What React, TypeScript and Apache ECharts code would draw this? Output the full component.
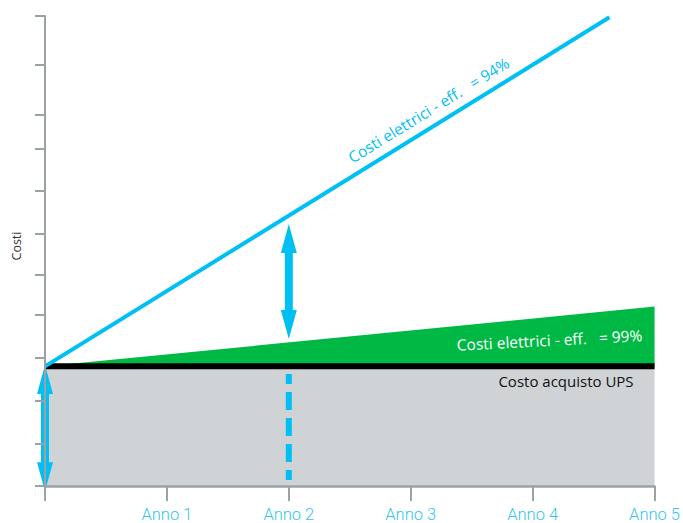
import React, { useEffect, useRef } from "react";
import * as echarts from "echarts";

// x: years (0..5), y: cost units (0..110)
const yearTicks = [0, 1, 2, 3, 4, 5];
const yearLabels = ["", "Anno 1", "Anno 2", "Anno 3", "Anno 4", "Anno 5"];
const costTicks = [0, 10, 20, 30, 40, 49.5, 59, 69, 79, 87, 98.5, 110];

const upsCost = [[0, 28], [5, 28]];
const eff99 = [[0, 28], [5, 42]];
const eff94 = [[0, 28], [4.63, 109.7]];
const dashedMarker = [[2, 26.2], [2, 1.4]];
// arrows: [x, topTip, bottomTip]
const arrows = [[2, 61.3, 34.4], [0, 28.3, -1.2]];

const labelEff94 = "Costi elettrici - eff.\u00a0\u00a0 = 94%";
const labelEff99 = "Costi elettrici - eff.\u00a0\u00a0 = 99%";
const labelUps = "Costo acquisto UPS";
const yName = "Costi";

const BLUE = "#00bff3";
const GREEN = "#00b945";
const GRAY_AREA = "#cfd3d6";
const AXIS_GRAY = "#9ba2a6";
const FONT = "'Open Sans', 'Noto Sans', sans-serif";

export default function App() {
  const ref = useRef<HTMLDivElement>(null);
  useEffect(() => {
    if (!ref.current) return;
    const chart = echarts.init(ref.current, undefined, { renderer: "svg" });
    const option: any = {
      animation: false,
      grid: { left: 45, right: 26, top: 16, bottom: 37, containLabel: false },
      xAxis: {
        type: "value",
        min: 0,
        max: 5,
        interval: 1,
        z: 10,
        axisLine: { show: true, lineStyle: { color: AXIS_GRAY, width: 2.5 } },
        axisTick: { show: true, length: 15, lineStyle: { color: AXIS_GRAY, width: 2 } },
        axisLabel: {
          show: true,
          margin: 20,
          color: "#33c5f0",
          fontSize: 16.5,
          fontFamily: "Roboto, 'Liberation Sans', sans-serif",
          fontWeight: 300,
          formatter: (v: number) => yearLabels[yearTicks.indexOf(Math.round(v))] ?? "",
        },
        splitLine: { show: false },
      },
      yAxis: {
        type: "value",
        min: 0,
        max: 110,
        interval: 10,
        z: 10,
        axisLine: { show: true, lineStyle: { color: AXIS_GRAY, width: 2 } },
        axisTick: {
          show: true,
          length: 10,
          customValues: costTicks,
          lineStyle: { color: AXIS_GRAY, width: 2 },
        },
        axisLabel: { show: false },
        splitLine: { show: false },
      },
      series: [
        {
          type: "line",
          data: eff99,
          showSymbol: false,
          lineStyle: { width: 0, color: GREEN },
          areaStyle: { color: GREEN, opacity: 1, origin: 28 },
          z: 2,
        },
        {
          type: "line",
          data: upsCost,
          showSymbol: false,
          lineStyle: { width: 6, color: "#000" },
          areaStyle: { color: GRAY_AREA, opacity: 1, origin: "start" },
          z: 3,
        },
        {
          type: "line",
          data: dashedMarker,
          showSymbol: false,
          lineStyle: { width: 6, color: BLUE, type: [18, 8], dashOffset: 8 },
          z: 4,
        },
        {
          type: "line",
          data: eff94,
          showSymbol: false,
          lineStyle: { width: 4, color: BLUE },
          z: 5,
        },
        {
          type: "custom",
          data: arrows,
          clip: false,
          z: 6,
          renderItem: (params: any, api: any) => {
            const x = api.value(0);
            const top = api.coord([x, api.value(1)]);
            const bot = api.coord([x, api.value(2)]);
            const cx = top[0];
            const t = top[1];
            const b = bot[1];
            const hw = 8, sw = 4, hl = 29;
            return {
              type: "polygon",
              shape: {
                points: [
                  [cx, t], [cx + hw, t + hl], [cx + sw, t + hl], [cx + sw, b - hl],
                  [cx + hw, b - hl], [cx, b], [cx - hw, b - hl], [cx - sw, b - hl],
                  [cx - sw, t + hl], [cx - hw, t + hl],
                ],
              },
              style: { fill: BLUE },
            };
          },
        },
      ],
      graphic: [
        {
          type: "text",
          x: 16,
          y: 246,
          rotation: Math.PI / 2,
          z: 20,
          style: {
            text: yName, fill: "#333", font: `12.5px ${FONT}`,
            textAlign: "center", textVerticalAlign: "middle", align: "center", verticalAlign: "middle",
          },
        },
        {
          type: "text",
          x: 428.5,
          y: 110,
          rotation: (31.6 * Math.PI) / 180,
          z: 20,
          style: {
            text: labelEff94, fill: BLUE, font: `15.5px ${FONT}`,
            textAlign: "center", textVerticalAlign: "middle", align: "center", verticalAlign: "middle",
          },
        },
        {
          type: "text",
          x: 549.5,
          y: 340,
          rotation: (3 * Math.PI) / 180,
          z: 20,
          style: {
            text: labelEff99, fill: "#fff", font: `15.5px ${FONT}`,
            textAlign: "center", textVerticalAlign: "middle", align: "center", verticalAlign: "middle",
          },
        },
        {
          type: "text",
          x: 566,
          y: 381,
          z: 20,
          style: {
            text: labelUps, fill: "#111", font: `15px ${FONT}`,
            textAlign: "center", textVerticalAlign: "middle", align: "center", verticalAlign: "middle",
          },
        },
      ],
    };
    chart.setOption(option);
    return () => chart.dispose();
  }, []);
  return (
    <div
      ref={ref}
      style={{ position: "absolute", left: 0, top: 0, width: 683, height: 523 }}
    />
  );
}
